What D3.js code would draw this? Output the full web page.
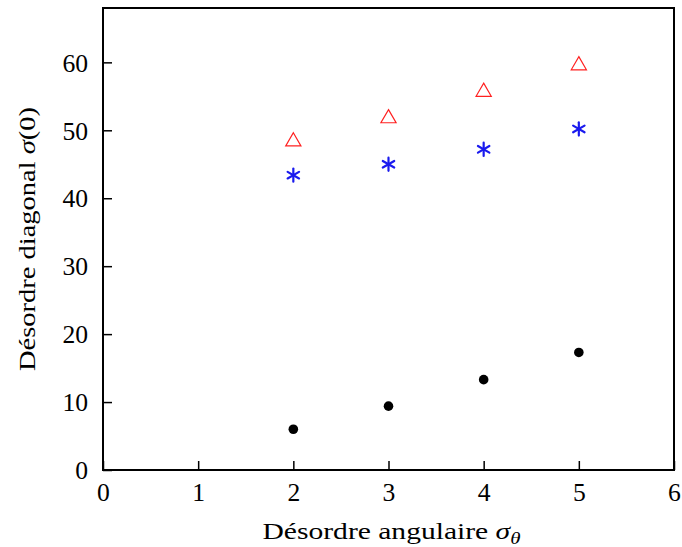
<!DOCTYPE html>
<html>
<head>
<meta charset="utf-8">
<script src="https://cdn.jsdelivr.net/npm/d3@7"></script>
<style>
  html, body { margin: 0; padding: 0; background: #fff; }
  svg text { font-family: "Liberation Serif", "DejaVu Serif", serif; fill: #000; }
</style>
</head>
<body>
<svg id="chart" width="682" height="547"></svg>
<script>
const xValues = [2, 3, 4, 5];
const triangleValues = [48.5, 51.9, 55.8, 59.7];
const starValues = [43.4, 45.0, 47.2, 50.2];
const dotValues = [6.0, 9.4, 13.3, 17.3];
const xTicks = [0, 1, 2, 3, 4, 5, 6];
const yTicks = [0, 10, 20, 30, 40, 50, 60];

const svg = d3.select("#chart");
const margin = {left: 103, right: 8, top: 8, bottom: 77};
const W = 682, H = 547;
const x = d3.scaleLinear().domain([0, 6]).range([margin.left, W - margin.right]);
const y = d3.scaleLinear().domain([0, 68]).range([H - margin.bottom, margin.top]);

// axes with inward ticks
const xAxis = d3.axisBottom(x).tickValues(xTicks).tickSize(-9).tickFormat(d3.format("d"));
const yAxis = d3.axisLeft(y).tickValues(yTicks).tickSize(-9).tickFormat(d3.format("d"));

const gx = svg.append("g").attr("transform", `translate(0,${y(0)})`).call(xAxis);
const gy = svg.append("g").attr("transform", `translate(${x(0)},0)`).call(yAxis);
[gx, gy].forEach(g => {
  g.select(".domain").remove();
  g.selectAll(".tick line").attr("stroke", "#000").attr("stroke-width", 1.5);
  g.selectAll(".tick text").attr("font-size", 25).attr("font-family", "Liberation Serif, serif")
    .attr("textLength", d => (String(d).length * 12.8)).attr("lengthAdjust", "spacingAndGlyphs");
});
gx.selectAll(".tick text").attr("dy", null).attr("y", 31);
gy.selectAll(".tick text").attr("x", -15).attr("dy", "0.35em");

// frame
svg.append("rect")
  .attr("x", x(0)).attr("y", y(68))
  .attr("width", x(6) - x(0)).attr("height", y(0) - y(68))
  .attr("fill", "none").attr("stroke", "#000").attr("stroke-width", 2);

// axis titles
const xt = svg.append("text").attr("x", (x(0) + x(6)) / 2 + 3).attr("y", 539)
  .attr("text-anchor", "middle").attr("font-size", 24)
  .attr("textLength", 258).attr("lengthAdjust", "spacingAndGlyphs");
xt.append("tspan").text("Désordre angulaire ");
xt.append("tspan").attr("font-style", "italic").text("σ");
xt.append("tspan").attr("font-style", "italic").attr("font-size", 17).attr("dy", 5).text("θ");

const yt = svg.append("text")
  .attr("transform", `translate(35,${(y(0) + y(68)) / 2}) rotate(-90)`)
  .attr("text-anchor", "middle").attr("font-size", 24)
  .attr("textLength", 264).attr("lengthAdjust", "spacingAndGlyphs");
yt.append("tspan").text("Désordre diagonal ");
yt.append("tspan").attr("font-style", "italic").text("σ");
yt.append("tspan").text("(0)");

// markers
const tri = d3.symbol().type(d3.symbolTriangle).size(100);
svg.append("g").selectAll("path").data(xValues.map((d, i) => [d, triangleValues[i]]))
  .join("path")
  .attr("d", tri)
  .attr("transform", d => `translate(${x(d[0])},${y(d[1]) + 1})`)
  .attr("fill", "none").attr("stroke", "#ff2020").attr("stroke-width", 1.2);

const starG = svg.append("g").selectAll("g").data(xValues.map((d, i) => [d, starValues[i]]))
  .join("g")
  .attr("transform", d => `translate(${x(d[0])},${y(d[1])})`);
[90, 30, 150].forEach(a => {
  const r = 6.6, rad = a * Math.PI / 180;
  starG.append("line")
    .attr("x1", -r * Math.cos(rad)).attr("y1", -r * Math.sin(rad))
    .attr("x2", r * Math.cos(rad)).attr("y2", r * Math.sin(rad))
    .attr("stroke", "#1a1aee").attr("stroke-width", 2.2).attr("stroke-linecap", "round");
});

svg.append("g").selectAll("circle").data(xValues.map((d, i) => [d, dotValues[i]]))
  .join("circle")
  .attr("cx", d => x(d[0])).attr("cy", d => y(d[1]))
  .attr("r", 4.8).attr("fill", "#000");
</script>
</body>
</html>
